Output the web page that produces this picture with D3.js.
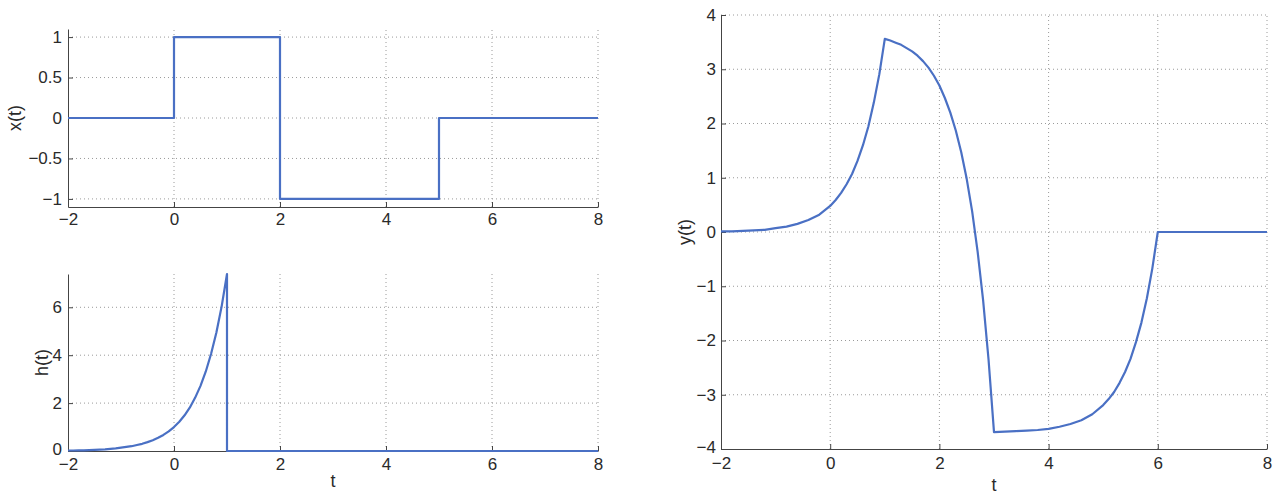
<!DOCTYPE html>
<html>
<head>
<meta charset="utf-8">
<script src="https://cdn.jsdelivr.net/npm/d3@7"></script>
<style>
  html, body { margin: 0; padding: 0; background: #fff; }
  svg { display: block; }
  .lbl { font-family: "Liberation Sans", Arial, sans-serif; font-size: 18px; fill: #2a2a2a; }
</style>
</head>
<body>
<svg id="chart" width="1281" height="497"></svg>
<script>
// ---------- data ----------
// x(t): rectangular pulses
const xT = [-2, 0, 0, 2, 2, 5, 5, 8];
const xV = [0, 0, 1, 1, -1, -1, 0, 0];

// h(t)
const hT = [-2, -1.9, -1.8, -1.7, -1.6, -1.5, -1.4, -1.3, -1.2, -1.1, -1.0,
            -0.9, -0.8, -0.7, -0.6, -0.5, -0.4, -0.3, -0.2, -0.1, 0,
            0.1, 0.2, 0.3, 0.4, 0.5, 0.6, 0.7, 0.8, 0.9, 1.0, 1.0, 8];
const hV = [0.02, 0.02, 0.03, 0.03, 0.04, 0.05, 0.06, 0.07, 0.09, 0.11, 0.14,
            0.17, 0.20, 0.25, 0.30, 0.37, 0.45, 0.55, 0.67, 0.82, 1.00,
            1.22, 1.49, 1.82, 2.23, 2.72, 3.32, 4.06, 4.95, 6.05, 7.39, 0, 0];

// y(t)
const yT = [-2, -1.8, -1.6, -1.4, -1.2, -1.0, -0.8, -0.6, -0.4, -0.2, 0,
            0.1, 0.2, 0.3, 0.4, 0.5, 0.6, 0.7, 0.8, 0.9, 1.0,
            1.1, 1.2, 1.3, 1.4, 1.5, 1.6, 1.7, 1.8, 1.9, 2.0,
            2.1, 2.2, 2.3, 2.4, 2.5, 2.6, 2.7, 2.8, 2.9, 3.0,
            3.2, 3.4, 3.6, 3.8, 4.0, 4.2, 4.4, 4.6, 4.8, 5.0,
            5.1, 5.2, 5.3, 5.4, 5.5, 5.6, 5.7, 5.8, 5.9, 6.0, 8];
const yV = [0.01, 0.01, 0.02, 0.03, 0.04, 0.07, 0.10, 0.15, 0.22, 0.32, 0.48,
            0.59, 0.72, 0.88, 1.07, 1.31, 1.60, 1.95, 2.39, 2.91, 3.56,
            3.53, 3.49, 3.45, 3.39, 3.33, 3.25, 3.15, 3.03, 2.88, 2.70,
            2.47, 2.20, 1.87, 1.47, 0.98, 0.38, -0.36, -1.25, -2.35, -3.69,
            -3.68, -3.67, -3.66, -3.65, -3.63, -3.59, -3.54, -3.47, -3.36, -3.19,
            -3.08, -2.95, -2.78, -2.58, -2.34, -2.03, -1.67, -1.22, -0.67, 0, 0];

// ticks
const tTicks = [-2, 0, 2, 4, 6, 8];
const xTicks = [-1, -0.5, 0, 0.5, 1];
const hTicks = [0, 2, 4, 6];
const yTicks = [-4, -3, -2, -1, 0, 1, 2, 3, 4];

// ---------- drawing ----------
const svg = d3.select("#chart");
const lineColor = "#4a70c4";
const FONT = '"Liberation Sans", Arial, sans-serif';

function panel(o) {
  const g = svg.append("g");
  const xs = d3.scaleLinear().domain(o.xDomain).range([o.left, o.right]);
  const ys = d3.scaleLinear().domain(o.yDomain).range([o.bottom, o.top]);

  // grid
  const grid = g.append("g").attr("stroke", "#9a9a9a").attr("stroke-width", 1)
    .attr("stroke-dasharray", "1,3").attr("fill", "none");
  o.xTicks.forEach(v => {
    if (v === o.xDomain[0]) return;
    grid.append("line").attr("x1", xs(v)).attr("x2", xs(v))
      .attr("y1", o.bottom).attr("y2", o.top);
  });
  o.yTicks.forEach(v => {
    if (v === o.yDomain[0]) return;
    grid.append("line").attr("x1", o.left).attr("x2", o.right)
      .attr("y1", ys(v)).attr("y2", ys(v));
  });

  // axes
  const ax = g.append("g").attr("transform", `translate(0,${o.bottom})`)
    .call(d3.axisBottom(xs).tickValues(o.xTicks).tickSizeInner(-5).tickSizeOuter(0)
      .tickPadding(o.xPad).tickFormat(d3.format("")));
  const ay = g.append("g").attr("transform", `translate(${o.left},0)`)
    .call(d3.axisLeft(ys).tickValues(o.yTicks).tickSizeInner(-5).tickSizeOuter(0)
      .tickPadding(o.yPad).tickFormat(d3.format("")));
  [ax, ay].forEach(a => {
    a.attr("font-size", 17).attr("font-family", FONT);
    a.selectAll("path,line").attr("stroke", "#444").attr("stroke-width", 1);
    a.selectAll("text").attr("fill", "#2a2a2a")
      .style("font-size", "17px").style("font-family", FONT);
  });
  if (o.yFirstShift) {
    ay.selectAll(".tick").filter(d => d === o.yDomain[0]).select("text")
      .attr("dy", (0.32 + o.yFirstShift) + "em");
  }

  // curve
  const pts = o.t.map((t, i) => [t, o.v[i]]);
  g.append("path").datum(pts)
    .attr("fill", "none").attr("stroke", lineColor).attr("stroke-width", 2.2)
    .attr("stroke-linejoin", "round")
    .attr("d", d3.line().x(d => xs(d[0])).y(d => ys(d[1])));

  // labels
  g.append("text").attr("class", "lbl")
    .attr("transform", `translate(${o.ylabX},${(o.top + o.bottom) / 2}) rotate(-90)`)
    .attr("text-anchor", "middle").attr("dy", "0.35em").text(o.ylab);
  if (o.xlab) {
    g.append("text").attr("class", "lbl")
      .attr("x", (o.left + o.right) / 2).attr("y", o.xlabY)
      .attr("text-anchor", "middle").text(o.xlab);
  }
}

panel({ left: 68, right: 598, top: 29, bottom: 207, xDomain: [-2, 8], yDomain: [-1.1, 1.1],
        xTicks: tTicks, yTicks: xTicks, t: xT, v: xV, ylab: "x(t)", ylabX: 15, yPad: 6, xPad: 6 });
panel({ left: 68, right: 598, top: 274, bottom: 451, xDomain: [-2, 8], yDomain: [0, 7.39],
        xTicks: tTicks, yTicks: hTicks, t: hT, v: hV, ylab: "h(t)", ylabX: 42, yPad: 6, xPad: 7,
        yFirstShift: -0.12, xlab: "t", xlabY: 487 });
panel({ left: 721, right: 1267, top: 15, bottom: 449, xDomain: [-2, 8], yDomain: [-4, 4],
        xTicks: tTicks, yTicks: yTicks, t: yT, v: yV, ylab: "y(t)", ylabX: 685, yPad: 5, xPad: 8,
        yFirstShift: -0.1, xlab: "t", xlabY: 491 });
</script>
</body>
</html>
